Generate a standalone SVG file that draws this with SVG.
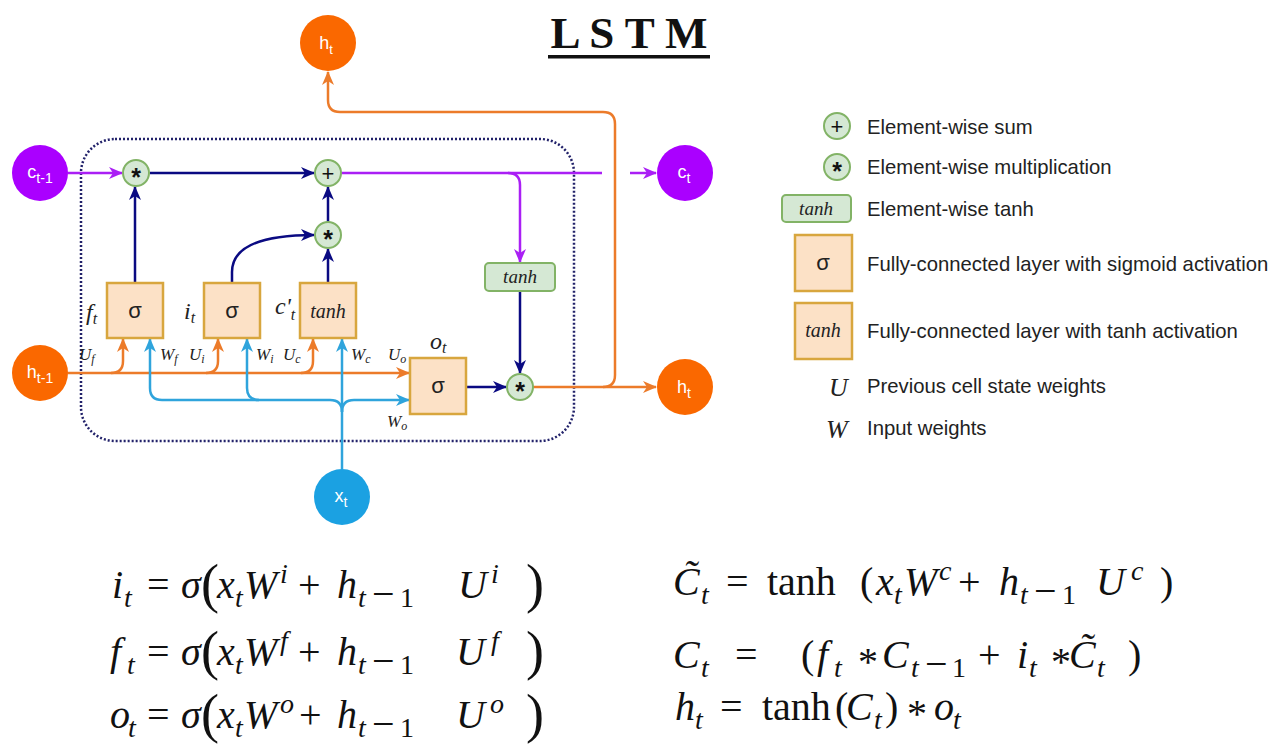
<svg xmlns="http://www.w3.org/2000/svg" width="1277" height="747" viewBox="0 0 1277 747">
  <style>
    .bg { fill: #ffffff; }
    .st-txt { font-family: "Liberation Sans", Arial, sans-serif; font-size: 18px; fill: #ffffff; text-anchor: middle; }
    .op { fill: #d5e8d4; stroke: #82b366; stroke-width: 2; }
    .op-txt { font-family: "Liberation Sans", Arial, sans-serif; font-size: 22px; fill: #111111; text-anchor: middle; }
    .op-ast { font-family: "Liberation Sans", Arial, sans-serif; font-size: 25px; font-weight: bold; fill: #111111; text-anchor: middle; }
    .gate { fill: #fce1c6; stroke: #d8a63e; stroke-width: 2.5; }
    .act { fill: #d5e8d4; stroke: #82b366; stroke-width: 2; }
    .sig { font-family: "Liberation Sans", Arial, sans-serif; font-size: 22px; fill: #222222; text-anchor: middle; }
    .it { font-family: "Liberation Serif", "Times New Roman", serif; font-style: italic; fill: #222222; }
    .lbl { font-family: "Liberation Serif", "Times New Roman", serif; font-style: italic; font-size: 17px; fill: #222222; }
    .gl { font-family: "Liberation Serif", "Times New Roman", serif; font-style: italic; font-size: 24px; fill: #222222; }
    .leg { font-family: "Liberation Sans", Arial, sans-serif; font-size: 20.3px; fill: #222222; }
    .navy { fill: none; stroke: #0a0a82; stroke-width: 2.5; }
    .purple { fill: none; stroke: #aa1ff5; stroke-width: 2.5; }
    .orange { fill: none; stroke: #ec7b2a; stroke-width: 2.5; }
    .blue { fill: none; stroke: #2fa4dc; stroke-width: 2.5; }
    .cell { fill: none; stroke: #22226a; stroke-width: 2.5; stroke-dasharray: 2 2; }
    .m { font-family: "Liberation Serif", "Times New Roman", serif; font-size: 40px; fill: #111111; }
    .mi { font-style: italic; }
    .ms { font-size: 28px; }
    .mp { font-size: 54px; }
  </style>
  <defs>
    <marker id="ah-navy" markerUnits="userSpaceOnUse" markerWidth="14" markerHeight="12" refX="13" refY="6" orient="auto">
      <path d="M0,0 L14,6 L0,12 L4,6 z" fill="#0a0a82"/>
    </marker>
    <marker id="ah-purple" markerUnits="userSpaceOnUse" markerWidth="14" markerHeight="12" refX="13" refY="6" orient="auto">
      <path d="M0,0 L14,6 L0,12 L4,6 z" fill="#aa1ff5"/>
    </marker>
    <marker id="ah-orange" markerUnits="userSpaceOnUse" markerWidth="14" markerHeight="12" refX="13" refY="6" orient="auto">
      <path d="M0,0 L14,6 L0,12 L4,6 z" fill="#ec7b2a"/>
    </marker>
    <marker id="ah-blue" markerUnits="userSpaceOnUse" markerWidth="14" markerHeight="12" refX="13" refY="6" orient="auto">
      <path d="M0,0 L14,6 L0,12 L4,6 z" fill="#2fa4dc"/>
    </marker>
  </defs>

  <rect class="bg" x="0" y="0" width="1277" height="747"/>

  <!-- title -->
  <g id="title">
    <text x="629" y="48" font-family="'Liberation Serif', 'Times New Roman', serif" font-size="45" font-weight="bold" fill="#111" text-anchor="middle">L S T M</text>
    <rect x="548" y="55" width="162" height="3.5" fill="#111"/>
  </g>

  <!-- cell boundary -->
  <g id="cell">
    <rect class="cell" x="81" y="139" width="493" height="302" rx="34" ry="34"/>
  </g>

  <!-- connectors -->
  <g id="connectors">
    <!-- cell state path -->
    <path class="purple" d="M68,173 L122,173" marker-end="url(#ah-purple)"/>
    <path class="navy" d="M150,173 L314,173" marker-end="url(#ah-navy)"/>
    <path class="purple" d="M341,173 L602,173"/>
    <path class="purple" d="M508,173 Q520,173 520,185 L520,262" marker-end="url(#ah-purple)"/>
    <path class="purple" d="M630,173 L656,173" marker-end="url(#ah-purple)"/>
    <!-- gate outputs -->
    <path class="navy" d="M135,283 L135,187" marker-end="url(#ah-navy)"/>
    <path class="navy" d="M232,283 L232,272 C232,246 262,235 314,235" marker-end="url(#ah-navy)"/>
    <path class="navy" d="M328,283 L328,249" marker-end="url(#ah-navy)"/>
    <path class="navy" d="M328,222 L328,187" marker-end="url(#ah-navy)"/>
    <path class="navy" d="M466,387 L506,387" marker-end="url(#ah-navy)"/>
    <path class="navy" d="M520,291 L520,373" marker-end="url(#ah-navy)"/>
    <!-- previous hidden state -->
    <path class="orange" d="M68,373 L409,373" marker-end="url(#ah-orange)"/>
    <path class="orange" d="M111,373 Q123,373 123,361 L123,339" marker-end="url(#ah-orange)"/>
    <path class="orange" d="M206,373 Q218,373 218,361 L218,339" marker-end="url(#ah-orange)"/>
    <path class="orange" d="M301,373 Q313,373 313,361 L313,339" marker-end="url(#ah-orange)"/>
    <!-- output hidden state -->
    <path class="orange" d="M533,387 L656,387" marker-end="url(#ah-orange)"/>
    <path class="orange" d="M603,387 Q615,387 615,375 L615,124 Q615,112 603,112 L340,112 Q328,112 328,100 L328,72" marker-end="url(#ah-orange)"/>
    <!-- input -->
    <path class="blue" d="M342,469 L342,339" marker-end="url(#ah-blue)"/>
    <path class="blue" d="M342,412 Q342,400 330,400 L162,400 Q150,400 150,388 L150,339" marker-end="url(#ah-blue)"/>
    <path class="blue" d="M259,400 Q247,400 247,388 L247,339" marker-end="url(#ah-blue)"/>
    <path class="blue" d="M342,412 Q342,400 354,400 L409,400" marker-end="url(#ah-blue)"/>
  </g>

  <!-- state nodes -->
  <g id="h-out-top">
    <circle cx="328" cy="43" r="28" fill="#fa6800"/>
    <text class="st-txt" x="326" y="49">h<tspan font-size="13" dy="5">t</tspan></text>
  </g>
  <g id="c-prev">
    <circle cx="40" cy="173" r="28" fill="#aa00ff"/>
    <text class="st-txt" x="40" y="178">c<tspan font-size="14" dy="5">t-1</tspan></text>
  </g>
  <g id="c-out">
    <circle cx="685" cy="173" r="28" fill="#aa00ff"/>
    <text class="st-txt" x="684" y="178">c<tspan font-size="14" dy="5">t</tspan></text>
  </g>
  <g id="h-prev">
    <circle cx="40" cy="373" r="28" fill="#fa6800"/>
    <text class="st-txt" x="40" y="378">h<tspan font-size="14" dy="5">t-1</tspan></text>
  </g>
  <g id="h-out">
    <circle cx="685" cy="387" r="28" fill="#fa6800"/>
    <text class="st-txt" x="684" y="393">h<tspan font-size="14" dy="5">t</tspan></text>
  </g>
  <g id="x-in">
    <circle cx="342" cy="497" r="28" fill="#1ba1e2"/>
    <text class="st-txt" x="341" y="502">x<tspan font-size="14" dy="5">t</tspan></text>
  </g>

  <!-- pointwise operations -->
  <g id="mul-forget">
    <circle class="op" cx="136" cy="173" r="13"/>
    <text class="op-ast" x="136" y="186">*</text>
  </g>
  <g id="sum-cell">
    <circle class="op" cx="328" cy="173" r="13"/>
    <text class="op-txt" x="328" y="181">+</text>
  </g>
  <g id="mul-input">
    <circle class="op" cx="328" cy="235" r="13"/>
    <text class="op-ast" x="328" y="248">*</text>
  </g>
  <g id="mul-output">
    <circle class="op" cx="520" cy="387" r="13"/>
    <text class="op-ast" x="520" y="400">*</text>
  </g>
  <g id="tanh-cell">
    <rect class="act" x="485" y="263" width="70" height="28" rx="4"/>
    <text class="it" x="520" y="283" font-size="19" text-anchor="middle">tanh</text>
  </g>

  <!-- gates -->
  <g id="gate-f">
    <rect class="gate" x="107" y="283" width="56" height="55"/>
    <text class="sig" x="135" y="318">σ</text>
    <text class="gl" x="86" y="320">f<tspan font-size="16" dy="4">t</tspan></text>
  </g>
  <g id="gate-i">
    <rect class="gate" x="204" y="283" width="56" height="55"/>
    <text class="sig" x="232" y="318">σ</text>
    <text class="gl" x="184" y="319">i<tspan font-size="16" dy="4">t</tspan></text>
  </g>
  <g id="gate-c">
    <rect class="gate" x="300" y="283" width="56" height="55"/>
    <text class="it" x="328" y="318" font-size="20" text-anchor="middle">tanh</text>
    <text class="gl" x="275" y="314">c'<tspan font-size="16" dy="6">t</tspan></text>
  </g>
  <g id="gate-o">
    <rect class="gate" x="410" y="358" width="56" height="56"/>
    <text class="sig" x="438" y="393">σ</text>
    <text class="gl" x="430" y="349">o<tspan font-size="16" dy="4">t</tspan></text>
  </g>

  <!-- weight labels -->
  <g id="weights">
    <text class="lbl" x="79" y="360">U<tspan font-size="12" dy="3">f</tspan></text>
    <text class="lbl" x="160" y="360">W<tspan font-size="12" dy="3">f</tspan></text>
    <text class="lbl" x="189" y="360">U<tspan font-size="12" dy="3">i</tspan></text>
    <text class="lbl" x="256" y="360">W<tspan font-size="12" dy="3">i</tspan></text>
    <text class="lbl" x="283" y="360">U<tspan font-size="12" dy="3">c</tspan></text>
    <text class="lbl" x="351" y="360">W<tspan font-size="12" dy="3">c</tspan></text>
    <text class="lbl" x="388" y="360">U<tspan font-size="12" dy="3">o</tspan></text>
    <text class="lbl" x="387" y="427">W<tspan font-size="12" dy="3">o</tspan></text>
  </g>

  <!-- legend -->
  <g id="legend">
    <circle class="op" cx="837" cy="126" r="13"/>
    <text class="op-txt" x="837" y="134">+</text>
    <text class="leg" x="867" y="134">Element-wise sum</text>
    <circle class="op" cx="837" cy="167" r="13"/>
    <text class="op-ast" x="837" y="180">*</text>
    <text class="leg" x="867" y="174">Element-wise multiplication</text>
    <rect class="act" x="782" y="195" width="69" height="27" rx="4"/>
    <text class="it" x="816" y="215" font-size="19" text-anchor="middle">tanh</text>
    <text class="leg" x="867" y="216">Element-wise tanh</text>
    <rect class="gate" x="795" y="235" width="57" height="56"/>
    <text class="sig" x="823" y="270">σ</text>
    <text class="leg" x="867" y="271">Fully-connected layer with sigmoid activation</text>
    <rect class="gate" x="795" y="303" width="57" height="56"/>
    <text class="it" x="823" y="337" font-size="20" text-anchor="middle">tanh</text>
    <text class="leg" x="867" y="338">Fully-connected layer with tanh activation</text>
    <text class="it" x="829" y="396" font-size="26">U</text>
    <text class="leg" x="867" y="393">Previous cell state weights</text>
    <text class="it" x="826" y="438" font-size="26">W</text>
    <text class="leg" x="867" y="435">Input weights</text>
  </g>

  <!-- gate equations -->
  <g id="eq-gates" class="m">
    <text y="598"><tspan class="mi" x="112">i</tspan><tspan class="ms mi" x="124" dy="9">t</tspan><tspan x="147" dy="-9">=</tspan><tspan class="mi" x="181">σ</tspan><tspan class="mp" x="201" dy="4">(</tspan><tspan class="mi" x="217" dy="-4">x</tspan><tspan class="ms mi" x="235" dy="9">t</tspan><tspan class="mi" x="244" dy="-9">W</tspan><tspan class="ms mi" x="280" dy="-15">i</tspan><tspan x="298" dy="15">+</tspan><tspan class="mi" x="337">h</tspan><tspan class="ms mi" x="358" dy="9">t</tspan><tspan x="372">−</tspan><tspan class="ms" x="400">1</tspan><tspan class="mi" x="458" dy="-9">U</tspan><tspan class="ms mi" x="491" dy="-15">i</tspan><tspan class="mp" x="526" dy="19">)</tspan></text>
    <text y="665"><tspan class="mi" x="110">f</tspan><tspan class="ms mi" x="127" dy="9">t</tspan><tspan x="147" dy="-9">=</tspan><tspan class="mi" x="181">σ</tspan><tspan class="mp" x="201" dy="4">(</tspan><tspan class="mi" x="217" dy="-4">x</tspan><tspan class="ms mi" x="235" dy="9">t</tspan><tspan class="mi" x="244" dy="-9">W</tspan><tspan class="ms mi" x="280" dy="-15">f</tspan><tspan x="298" dy="15">+</tspan><tspan class="mi" x="337">h</tspan><tspan class="ms mi" x="358" dy="9">t</tspan><tspan x="372">−</tspan><tspan class="ms" x="400">1</tspan><tspan class="mi" x="456" dy="-9">U</tspan><tspan class="ms mi" x="491" dy="-15">f</tspan><tspan class="mp" x="526" dy="19">)</tspan></text>
    <text y="728"><tspan class="mi" x="110">o</tspan><tspan class="ms mi" x="128" dy="9">t</tspan><tspan x="147" dy="-9">=</tspan><tspan class="mi" x="181">σ</tspan><tspan class="mp" x="201" dy="4">(</tspan><tspan class="mi" x="217" dy="-4">x</tspan><tspan class="ms mi" x="235" dy="9">t</tspan><tspan class="mi" x="244" dy="-9">W</tspan><tspan class="ms mi" x="280" dy="-15">o</tspan><tspan x="299" dy="15">+</tspan><tspan class="mi" x="337">h</tspan><tspan class="ms mi" x="358" dy="9">t</tspan><tspan x="372">−</tspan><tspan class="ms" x="400">1</tspan><tspan class="mi" x="456" dy="-9">U</tspan><tspan class="ms mi" x="490" dy="-15">o</tspan><tspan class="mp" x="526" dy="19">)</tspan></text>
  </g>

  <!-- state equations -->
  <g id="eq-state" class="m">
    <text y="595"><tspan class="mi" x="673">C&#x303;</tspan><tspan class="ms mi" x="701" dy="9">t</tspan><tspan x="726" dy="-9">=</tspan><tspan x="767">tanh</tspan><tspan x="860">(</tspan><tspan class="mi" x="876">x</tspan><tspan class="ms mi" x="894" dy="9">t</tspan><tspan class="mi" x="904" dy="-9">W</tspan><tspan class="ms mi" x="939" dy="-15">c</tspan><tspan x="958" dy="15">+</tspan><tspan class="mi" x="999">h</tspan><tspan class="ms mi" x="1020" dy="9">t</tspan><tspan x="1034">−</tspan><tspan class="ms" x="1062">1</tspan><tspan class="mi" x="1096" dy="-9">U</tspan><tspan class="ms mi" x="1131" dy="-15">c</tspan><tspan x="1160" dy="15">)</tspan></text>
    <text y="668"><tspan class="mi" x="673">C</tspan><tspan class="ms mi" x="701" dy="9">t</tspan><tspan x="735" dy="-9">=</tspan><tspan x="801">(</tspan><tspan class="mi" x="817">f</tspan><tspan class="ms mi" x="834" dy="9">t</tspan><tspan x="858" dy="-2">*</tspan><tspan class="mi" x="882" dy="-7">C</tspan><tspan class="ms mi" x="911" dy="9">t</tspan><tspan x="925">−</tspan><tspan class="ms" x="952">1</tspan><tspan x="978" dy="-9">+</tspan><tspan class="mi" x="1017">i</tspan><tspan class="ms mi" x="1029" dy="9">t</tspan><tspan x="1051" dy="-2">*</tspan><tspan class="mi" x="1069" dy="-7">C&#x303;</tspan><tspan class="ms mi" x="1097" dy="9">t</tspan><tspan x="1128" dy="-9">)</tspan></text>
    <text y="720"><tspan class="mi" x="675">h</tspan><tspan class="ms mi" x="695" dy="9">t</tspan><tspan x="720" dy="-9">=</tspan><tspan x="762">tanh</tspan><tspan x="835">(</tspan><tspan class="mi" x="846">C</tspan><tspan class="ms mi" x="874" dy="9">t</tspan><tspan x="885" dy="-9">)</tspan><tspan x="907" dy="7">*</tspan><tspan class="mi" x="934" dy="-7">o</tspan><tspan class="ms mi" x="953" dy="9">t</tspan></text>
  </g>
</svg>
